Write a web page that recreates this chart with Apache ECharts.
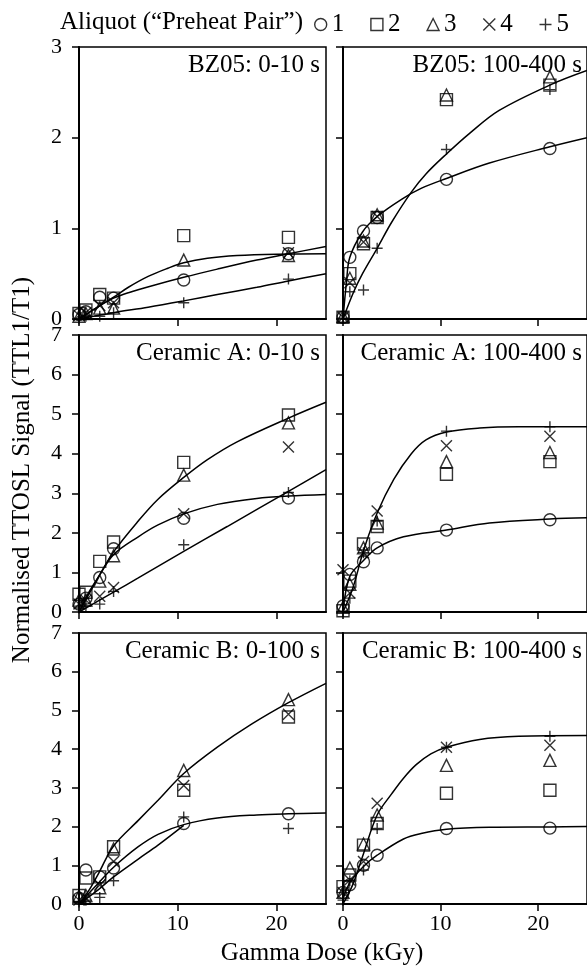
<!DOCTYPE html>
<html>
<head>
<meta charset="utf-8">
<script src="https://cdn.jsdelivr.net/npm/echarts@6/dist/echarts.min.js"></script>
<style>
  html, body { margin: 0; padding: 0; background: #fff; }
  #main { width: 587px; height: 968px; }
</style>
</head>
<body>
<div id="main"></div>
<script>
// gamma doses (kGy) shared by all panels
var doses = [0, 0.7, 2.1, 3.5, 10.6, 21.2];
var aliquots = ['1', '2', '3', '4', '5'];
var xTicks = [0, 10, 20];
var panelTitles = ['BZ05: 0-10 s', 'BZ05: 100-400 s', 'Ceramic A: 0-10 s', 'Ceramic A: 100-400 s', 'Ceramic B: 0-100 s', 'Ceramic B: 100-400 s'];
var yMax = [3, 3, 7, 7, 7, 7];

// measured points, one row per aliquot (1..5)
var bz05Short = [
  [0.05, 0.08, 0.24, 0.23, 0.43, 0.72],
  [0.06, 0.10, 0.27, 0.23, 0.92, 0.90],
  [0.03, 0.06, 0.12, 0.12, 0.65, 0.70],
  [0.04, 0.07, 0.15, 0.18, null, 0.73],
  [0.00, 0.03, 0.03, 0.07, 0.18, 0.44]
];
var bz05Long = [
  [0.02, 0.68, 0.97, 1.12, 1.54, 1.88],
  [0.02, 0.50, 0.83, 1.12, 2.42, 2.58],
  [0.03, 0.45, 0.86, 1.15, 2.47, 2.67],
  [0.02, 0.40, 0.85, 1.13, null, null],
  [0.01, 0.30, 0.32, 0.78, 1.87, 2.53]
];
var ceramicAShort = [
  [0.20, 0.35, 0.87, 1.60, 2.37, 2.88],
  [0.45, 0.50, 1.28, 1.77, 3.78, 4.98],
  [0.30, 0.30, 0.78, 1.42, 3.46, 4.78],
  [0.20, 0.30, 0.40, 0.62, 2.48, 4.17],
  [0.10, 0.15, 0.20, 0.52, 1.70, 3.02]
];
var ceramicALong = [
  [0.15, 0.95, 1.27, 1.62, 2.07, 2.33],
  [0.03, 0.78, 1.72, 2.16, 3.48, 3.80],
  [0.12, 0.70, 1.62, 2.25, 3.80, 4.03],
  [1.07, 0.48, 1.50, 2.55, 4.20, 4.44],
  [0.02, 0.35, 1.50, 2.30, 4.57, 4.68]
];
var ceramicBShort = [
  [0.15, 0.88, 0.70, 0.93, 2.08, 2.33],
  [0.22, 0.67, 0.70, 1.48, 2.94, 4.83],
  [0.20, 0.22, 0.42, 1.42, 3.45, 5.28],
  [0.10, 0.15, 0.49, 1.10, 3.06, 4.90],
  [0.05, 0.10, 0.17, 0.60, 2.25, 1.95]
];
var ceramicBLong = [
  [0.30, 0.50, 1.00, 1.26, 1.95, 1.96],
  [0.45, 0.75, 1.52, 2.08, 2.86, 2.94],
  [0.30, 0.93, 1.55, 2.30, 3.58, 3.71],
  [0.30, 0.62, 1.10, 2.60, 4.05, 4.10],
  [0.10, 0.60, 0.88, 1.95, 4.05, 4.33]
];
var panelData = [bz05Short, bz05Long, ceramicAShort, ceramicALong, ceramicBShort, ceramicBLong];

// fitted dose response curves, [dose, signal]
var bz05ShortFit = [
  [[0, 0], [1, 0.07], [2, 0.14], [3.5, 0.24], [5, 0.35], [7, 0.47], [9, 0.56], [10.6, 0.62], [13, 0.67], [16, 0.7], [20, 0.715], [25, 0.72]],
  [[0, 0], [1, 0.07], [2, 0.14], [3.5, 0.23], [5, 0.29], [7.5, 0.37], [10.6, 0.46], [14, 0.55], [18, 0.65], [21.2, 0.72], [25, 0.8]],
  [[0, 0], [3.5, 0.07], [7, 0.13], [10.6, 0.2], [14, 0.27], [18, 0.35], [21.2, 0.42], [25, 0.5]]
];
var bz05LongFit = [
  [[0, 0], [0.35, 0.4], [0.7, 0.68], [2, 0.96], [3.5, 1.13], [6, 1.32], [8, 1.44], [10.6, 1.55], [15, 1.72], [21.2, 1.9], [25, 2.0]],
  [[0, 0], [1.1, 0.3], [2, 0.5], [3.5, 0.78], [5, 1.07], [7, 1.4], [8.5, 1.6], [10.6, 1.82], [13, 2.05], [16, 2.3], [21.2, 2.58], [25, 2.74]]
];
var ceramicAShortFit = [
  [[0, 0], [1, 0.45], [2, 0.9], [3.5, 1.52], [6, 2.3], [8, 2.85], [10.6, 3.4], [13, 3.85], [16, 4.3], [21.2, 4.9], [25, 5.3]],
  [[0, 0], [1, 0.5], [2, 0.9], [3.5, 1.45], [6, 1.9], [8, 2.2], [10.6, 2.48], [14, 2.72], [18, 2.87], [21.2, 2.93], [25, 2.97]],
  [[0, 0], [3.5, 0.5], [6, 0.86], [10.6, 1.53], [15, 2.16], [21.2, 3.05], [25, 3.6]]
];
var ceramicALongFit = [
  [[0, 0], [1, 0.6], [2.1, 1.55], [3.5, 2.5], [5.2, 3.35], [7, 4.0], [8.5, 4.35], [10.6, 4.55], [14, 4.65], [18, 4.68], [25, 4.68]],
  [[0, 0], [0.7, 0.9], [2.1, 1.3], [3.5, 1.62], [6.2, 1.9], [10.6, 2.07], [15, 2.25], [21.2, 2.35], [25, 2.38]]
];
var ceramicBShortFit = [
  [[0, 0], [1, 0.35], [2, 0.8], [3.5, 1.5], [6, 2.16], [8, 2.68], [10.6, 3.37], [14, 4.05], [17.5, 4.65], [21.2, 5.2], [25, 5.7]],
  [[0, 0], [2, 0.55], [3.5, 0.95], [6, 1.48], [8, 1.8], [10.6, 2.05], [14, 2.22], [18, 2.3], [21.2, 2.33], [25, 2.35]],
  [[0, 0], [2, 0.38], [3.5, 0.7], [6, 1.16], [8, 1.52], [10.6, 2.03]]
];
var ceramicBLongFit = [
  [[0, 0], [1, 0.5], [2.1, 1.3], [3.5, 2.3], [5, 2.85], [6.2, 3.25], [7.5, 3.6], [9, 3.88], [10.6, 4.05], [14, 4.25], [18, 4.33], [25, 4.35]],
  [[0, 0.12], [0.7, 0.55], [2.1, 0.97], [3.5, 1.26], [6.2, 1.68], [8, 1.82], [10.6, 1.93], [15, 1.98], [21.2, 1.99], [25, 2.0]]
];
var panelFits = [bz05ShortFit, bz05LongFit, ceramicAShortFit, ceramicALongFit, ceramicBShortFit, ceramicBLongFit];

var FONT = '"Liberation Serif", "Times New Roman", serif';
var crossPath = 'path://M0,0L10,10M10,0L0,10';
var plusPath = 'path://M5,0L5,10M0,5L10,5';
var symbols = ['circle', 'rect', 'triangle', crossPath, plusPath];

var grids = [
  {left: 79, top: 47, width: 247, height: 272},
  {left: 343, top: 47, width: 247, height: 272},
  {left: 79, top: 335, width: 247, height: 277},
  {left: 343, top: 335, width: 247, height: 277},
  {left: 79, top: 633, width: 247, height: 271},
  {left: 343, top: 633, width: 247, height: 271}
];

var xAxes = [], yAxes = [], series = [], graphics = [];
for (var i = 0; i < 6; i++) {
  grids[i].show = true;
  grids[i].borderColor = '#000';
  grids[i].borderWidth = 1.5;
  grids[i].containLabel = false;

  xAxes.push({
    gridIndex: i, type: 'value', min: 0, max: 25,
    axisLine: {show: true, onZero: false, lineStyle: {color: '#000', width: 2}},
    axisTick: {show: true, length: 7, customValues: xTicks, lineStyle: {color: '#000', width: 1.5}},
    axisLabel: {show: i >= 4, customValues: xTicks, margin: 9, color: '#000', fontSize: 22, fontFamily: FONT},
    splitLine: {show: false}
  });
  yAxes.push({
    gridIndex: i, type: 'value', min: 0, max: yMax[i], interval: 1,
    axisLine: {show: true, onZero: false, lineStyle: {color: '#000', width: 2}},
    axisTick: {show: true, length: 7, lineStyle: {color: '#000', width: 1.5}},
    axisLabel: {show: i % 2 === 0, margin: 17, color: '#000', fontSize: 22, fontFamily: FONT},
    splitLine: {show: false}
  });

  var rows = panelData[i];
  for (var a = 0; a < rows.length; a++) {
    var pts = [];
    for (var d = 0; d < doses.length; d++) {
      if (rows[a][d] !== null) pts.push([doses[d], rows[a][d]]);
    }
    series.push({
      name: aliquots[a], type: 'scatter', xAxisIndex: i, yAxisIndex: i,
      symbol: symbols[a], symbolSize: a >= 3 ? 11 : 12,
      itemStyle: {color: 'transparent', borderColor: '#000', borderWidth: 1.4},
      data: pts, z: 3
    });
  }
  var fits = panelFits[i];
  for (var f = 0; f < fits.length; f++) {
    series.push({
      name: 'fit', type: 'line', xAxisIndex: i, yAxisIndex: i,
      data: fits[f], smooth: 0.35, showSymbol: false, symbol: 'none',
      lineStyle: {color: '#000', width: 1.5}, silent: true, z: 2
    });
  }

  var g = grids[i];
  graphics.push({
    type: 'text', x: g.left + (i % 2 === 0 ? 241 : 239), y: g.top + 18,
    style: {text: panelTitles[i], font: '25px ' + FONT, fill: '#000', textAlign: 'right', textVerticalAlign: 'middle'}
  });
}

graphics.push({
  type: 'text', x: 60, y: 22,
  style: {text: 'Aliquot (\u201cPreheat Pair\u201d)', font: '25px ' + FONT, fill: '#000', textAlign: 'left', textVerticalAlign: 'middle'}
});
graphics.push({
  type: 'text', x: 322, y: 953,
  style: {text: 'Gamma Dose (kGy)', font: '25px ' + FONT, fill: '#000', textAlign: 'center', textVerticalAlign: 'middle'}
});
graphics.push({
  type: 'text', x: 22, y: 470, rotation: Math.PI / 2,
  style: {text: 'Normalised TTOSL Signal (TTL1/T1)', font: '25px ' + FONT, fill: '#000', textAlign: 'center', textVerticalAlign: 'middle'}
});

var myChart = echarts.init(document.getElementById('main'), null, {renderer: 'canvas'});
var option = {
  backgroundColor: '#fff',
  animation: false,
  legend: {
    data: aliquots.map(function (n, k) { return {name: n, icon: symbols[k]}; }),
    left: 309, top: 7,
    itemWidth: 12, itemHeight: 12, itemGap: 26,
    selectedMode: false,
    itemStyle: {color: 'transparent', borderColor: '#000', borderWidth: 1.4},
    textStyle: {color: '#000', fontSize: 25, fontFamily: FONT}
  },
  grid: grids,
  xAxis: xAxes,
  yAxis: yAxes,
  series: series,
  graphic: graphics
};
myChart.setOption(option);
</script>
</body>
</html>
